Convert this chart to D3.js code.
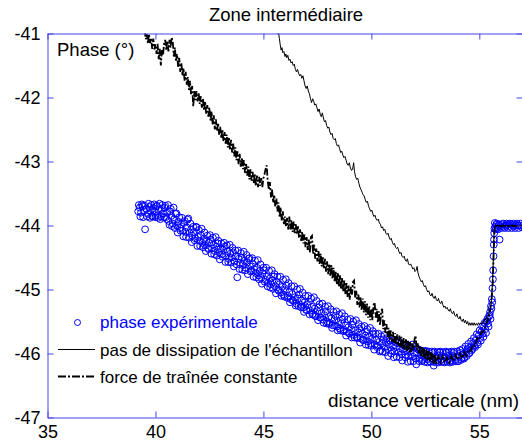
<!DOCTYPE html>
<html>
<head>
<meta charset="utf-8">
<script src="https://cdn.jsdelivr.net/npm/d3@7"></script>
<style>
  html, body { margin: 0; padding: 0; background: #fff; }
  svg { display: block; font-family: "Liberation Sans", Arial, sans-serif; }
</style>
</head>
<body>
<script>
// ---------- data ----------
const titleText = "Zone intermédiaire";
const xLabel = "distance verticale (nm)";
const yLabel = "Phase (°)";
const xTicks = [35, 40, 45, 50, 55];
const yTicks = [-47, -46, -45, -44, -43, -42, -41];
const legendLabels = ["phase expérimentale", "pas de dissipation de l'échantillon", "force de traînée constante"];

// experimental phase (blue circles): [distance, phase]
const phaseExp = [
[39.20,-43.78],[39.27,-43.72],[39.33,-43.80],[39.40,-43.70],[39.46,-43.76],[39.52,-44.06],[39.58,-43.74],[39.65,-43.82],
[39.71,-43.71],[39.78,-43.77],[39.84,-43.85],[39.90,-43.73],[39.97,-43.79],[40.03,-43.70],[40.10,-43.84],[40.16,-43.76],
[40.22,-43.90],[40.29,-43.74],[40.35,-43.81],[40.42,-43.72],[40.48,-43.87],[40.55,-43.80],[40.61,-43.93],[40.68,-43.78],
[40.74,-43.85],[40.80,-43.97],[40.87,-43.90],[40.93,-43.82],[41.00,-44.00],[41.06,-43.94],[41.13,-44.04],[41.19,-43.98],
[41.26,-44.08],[41.32,-43.96],[41.39,-44.10],[41.45,-44.03],[41.52,-43.89],[41.58,-44.12],[41.65,-44.06],[41.71,-44.16],
[41.78,-44.10],[41.84,-44.20],[41.91,-44.03],[41.97,-44.18],[42.04,-44.24],[42.10,-44.15],[42.17,-44.27],[42.23,-44.21],
[42.30,-44.31],[42.36,-44.24],[42.43,-44.35],[42.49,-44.27],[42.56,-44.22],[42.62,-44.36],[42.69,-44.30],[42.75,-44.40],
[42.82,-44.33],[42.88,-44.28],[42.95,-44.42],[43.01,-44.36],[43.08,-44.45],[43.14,-44.38],[43.21,-44.33],[43.27,-44.47],
[43.34,-44.40],[43.40,-44.52],[43.47,-44.44],[43.53,-44.50],[43.60,-44.42],[43.66,-44.56],[43.73,-44.48],[43.79,-44.81],
[43.86,-44.52],[43.92,-44.58],[43.99,-44.50],[44.05,-44.62],[44.12,-44.55],[44.18,-44.66],[44.25,-44.58],[44.31,-44.52],
[44.38,-44.64],[44.44,-44.70],[44.51,-44.60],[44.57,-44.68],[44.64,-44.74],[44.70,-44.66],[44.77,-44.78],[44.83,-44.71],
[44.90,-44.82],[44.96,-44.75],[45.03,-44.70],[45.09,-44.85],[45.16,-44.79],[45.22,-44.90],[45.29,-44.83],[45.35,-44.92],
[45.42,-44.86],[45.48,-44.80],[45.55,-44.95],[45.61,-44.88],[45.68,-45.00],[45.74,-44.92],[45.81,-45.05],[45.87,-44.96],
[45.94,-45.08],[46.00,-45.01],[46.07,-44.94],[46.13,-45.10],[46.20,-45.04],[46.26,-45.15],[46.33,-45.07],[46.39,-45.18],
[46.46,-45.12],[46.52,-45.22],[46.59,-45.14],[46.65,-45.08],[46.72,-45.24],[46.78,-45.17],[46.85,-45.28],[46.91,-45.20],
[46.98,-45.32],[47.04,-45.24],[47.11,-45.19],[47.17,-45.33],[47.24,-45.27],[47.30,-45.38],[47.37,-45.30],[47.43,-45.42],
[47.50,-45.34],[47.56,-45.28],[47.63,-45.44],[47.69,-45.37],[47.76,-45.47],[47.82,-45.40],[47.89,-45.34],[47.95,-45.50],
[48.02,-45.43],[48.08,-45.52],[48.15,-45.45],[48.21,-45.56],[48.28,-45.48],[48.34,-45.41],[48.41,-45.58],[48.47,-45.51],
[48.54,-45.61],[48.60,-45.53],[48.67,-45.47],[48.73,-45.63],[48.80,-45.56],[48.86,-45.66],[48.93,-45.59],[48.99,-45.69],
[49.06,-45.62],[49.12,-45.55],[49.19,-45.71],[49.25,-45.64],[49.32,-45.74],[49.38,-45.67],[49.45,-45.61],[49.51,-45.76],
[49.58,-45.69],[49.64,-45.79],[49.71,-45.72],[49.77,-45.66],[49.84,-45.81],[49.90,-45.74],[49.97,-45.84],[50.03,-45.77],
[50.10,-45.70],[50.16,-45.86],[50.23,-45.79],[50.29,-45.88],[50.36,-45.82],[50.42,-45.95],[50.49,-45.84],[50.55,-45.78],
[50.62,-45.90],[50.68,-45.83],[50.75,-45.93],[50.81,-45.86],[50.88,-45.80],[50.94,-45.95],[51.01,-45.88],[51.07,-45.97],
[51.14,-45.90],[51.20,-45.84],[51.27,-45.98],[51.33,-45.92],[51.40,-46.01],[51.46,-45.94],[51.53,-45.88],[51.59,-46.02],
[51.66,-45.95],[51.72,-46.04],[51.79,-45.97],[51.85,-45.91],[51.92,-46.05],[51.98,-45.99],[52.05,-46.08],[52.11,-46.00],
[52.18,-45.94],[52.24,-46.07],[52.31,-46.01],[52.37,-46.10],[52.44,-46.03],[52.50,-45.97],[52.57,-46.09],[52.63,-46.03],
[52.70,-46.12],[52.76,-46.05],[52.83,-45.99],[52.89,-46.19],[52.96,-46.06],[53.02,-46.11],[53.09,-46.03],[53.15,-45.98],
[53.22,-46.10],[53.28,-46.04],[53.35,-46.12],[53.41,-46.05],[53.48,-45.99],[53.54,-46.09],[53.61,-46.03],[53.67,-46.11],
[53.74,-46.04],[53.80,-45.99],[53.87,-46.10],[53.93,-46.05],[54.00,-46.12],[54.06,-46.04],[54.13,-45.99],[54.19,-46.07],
[54.26,-46.01],[54.32,-46.06],[54.39,-45.97],[54.45,-45.93],[54.52,-46.00],[54.58,-45.90],[54.65,-45.95],[54.71,-45.84],
[54.78,-45.88],[54.84,-45.79],[54.91,-45.83],[54.97,-45.72],[55.04,-45.76],[55.10,-45.66],[55.16,-45.69],[55.22,-45.58],
[55.28,-45.62],[55.34,-45.50],[55.40,-45.53],[55.45,-45.42],[55.50,-45.35],[55.54,-45.26],[55.58,-45.15],[55.61,-44.98],
[55.64,-44.70],[55.66,-44.48],[55.68,-44.22],[55.70,-44.05],[55.74,-44.02],[55.78,-43.99],[55.84,-44.04],[55.90,-44.00],
[55.94,-44.22],[55.98,-44.01],[56.06,-43.98],[56.14,-44.02],[56.22,-44.00],[56.30,-43.99],[56.38,-44.01],[56.46,-43.98],
[56.54,-44.00],[56.62,-44.01],[56.70,-43.99],[56.78,-44.00],[56.86,-44.00],[56.94,-44.00],
[39.23,-43.68],[39.30,-43.86],[39.37,-43.67],[39.43,-43.87],[39.49,-43.69],[39.61,-43.86],[39.68,-43.66],[39.75,-43.88],
[39.81,-43.68],[39.87,-43.86],[39.94,-43.67],[40.00,-43.87],[40.07,-43.69],[40.13,-43.88],[40.19,-43.66],[40.26,-43.86],
[40.32,-43.68],[40.39,-43.87],[40.45,-43.69],[40.52,-43.90],[40.58,-43.68],[40.65,-43.99],[40.71,-43.74],[40.77,-44.01],
[40.84,-43.72],[40.90,-44.04],[40.97,-43.81],[41.03,-44.11],[41.10,-43.87],[41.16,-44.08],[41.23,-43.88],[41.29,-44.17],
[41.36,-43.93],[41.42,-44.18],[41.49,-43.91],[41.55,-44.19],[41.62,-43.97],[41.68,-44.26],[41.75,-44.02],[41.81,-44.23],
[41.88,-44.02],[41.94,-44.32],[42.01,-44.07],[42.07,-44.32],[42.14,-44.05],[42.20,-44.34],[42.27,-44.11],[42.33,-44.40],
[42.40,-44.16],[42.46,-44.37],[42.53,-44.15],[42.59,-44.44],[42.66,-44.19],[42.72,-44.45],[42.79,-44.18],[42.85,-44.47],
[42.92,-44.24],[42.98,-44.53],[43.05,-44.28],[43.11,-44.49],[43.18,-44.27],[43.24,-44.57],[43.31,-44.31],[43.37,-44.57],
[43.44,-44.30],[43.50,-44.58],[43.57,-44.35],[43.63,-44.64],[43.70,-44.39],[43.76,-44.61],[43.83,-44.39],[43.89,-44.68],
[43.96,-44.43],[44.02,-44.69],[44.09,-44.41],[44.15,-44.70],[44.22,-44.46],[44.28,-44.76],[44.35,-44.51],[44.41,-44.72],
[44.48,-44.51],[44.54,-44.80],[44.61,-44.55],[44.67,-44.81],[44.74,-44.54],[44.80,-44.84],[44.87,-44.61],[44.93,-44.91],
[45.00,-44.66],[45.06,-44.88],[45.13,-44.66],[45.19,-44.95],[45.26,-44.71],[45.32,-44.97],[45.39,-44.70],[45.45,-44.99],
[45.52,-44.76],[45.58,-45.06],[45.65,-44.80],[45.71,-45.02],[45.78,-44.80],[45.84,-45.10],[45.91,-44.85],[45.97,-45.11],
[46.04,-44.84],[46.10,-45.13],[46.17,-44.90],[46.23,-45.20],[46.30,-44.95],[46.36,-45.17],[46.43,-44.95],[46.49,-45.25],
[46.56,-45.00],[46.62,-45.26],[46.69,-44.99],[46.75,-45.28],[46.82,-45.05],[46.88,-45.35],[46.95,-45.10],[47.01,-45.32],
[47.08,-45.10],[47.14,-45.39],[47.21,-45.14],[47.27,-45.39],[47.34,-45.12],[47.40,-45.41],[47.47,-45.18],[47.53,-45.48],
[47.60,-45.23],[47.66,-45.44],[47.73,-45.22],[47.79,-45.52],[47.86,-45.27],[47.92,-45.53],[47.99,-45.26],[48.05,-45.54],
[48.12,-45.31],[48.18,-45.60],[48.25,-45.35],[48.31,-45.56],[48.38,-45.34],[48.44,-45.64],[48.51,-45.39],[48.57,-45.64],
[48.64,-45.37],[48.70,-45.65],[48.77,-45.42],[48.83,-45.72],[48.90,-45.47],[48.96,-45.68],[49.03,-45.46],[49.09,-45.75],
[49.16,-45.50],[49.22,-45.75],[49.29,-45.48],[49.35,-45.76],[49.42,-45.54],[49.48,-45.83],[49.55,-45.58],[49.61,-45.79],
[49.68,-45.57],[49.74,-45.86],[49.81,-45.62],[49.87,-45.87],[49.94,-45.60],[50.00,-45.88],[50.07,-45.65],[50.13,-45.94],
[50.20,-45.69],[50.26,-45.90],[50.33,-45.69],[50.39,-45.97],[50.46,-45.73],[50.52,-45.97],[50.59,-45.71],[50.65,-45.98],
[50.72,-45.76],[50.78,-46.04],[50.85,-45.80],[50.91,-46.00],[50.98,-45.79],[51.04,-46.06],[51.11,-45.82],[51.17,-46.05],
[51.24,-45.80],[51.30,-46.06],[51.37,-45.84],[51.43,-46.11],[51.50,-45.87],[51.56,-46.06],[51.63,-45.86],[51.69,-46.13],
[51.76,-45.89],[51.82,-46.12],[51.89,-45.86],[51.95,-46.12],[52.02,-45.90],[52.08,-46.17],[52.15,-45.93],[52.21,-46.12],
[52.28,-45.95],[52.34,-46.12],[52.41,-45.96],[52.47,-46.13],[52.54,-45.96],[52.60,-46.14],[52.67,-45.97],[52.73,-46.13],
[52.80,-45.97],[52.86,-46.13],[52.93,-45.97],[52.99,-46.14],[53.06,-45.98],[53.12,-46.14],[53.19,-45.97],[53.25,-46.13],
[53.32,-45.98],[53.38,-46.14],[53.45,-45.97],[53.51,-46.13],[53.58,-45.98],[53.64,-46.14],[53.71,-45.97],[53.77,-46.13],
[53.84,-45.97],[53.90,-46.12],[53.97,-45.97],[54.03,-46.12],[54.10,-45.95],[54.16,-46.10],[54.23,-45.93],[54.29,-46.08],
[54.36,-45.89],[54.42,-46.04],[54.49,-45.85],[54.55,-45.99],[54.62,-45.81],[54.68,-45.93],[54.75,-45.76],[54.81,-45.90],
[54.88,-45.70],[54.94,-45.86],[55.01,-45.64],[55.07,-45.80],[55.13,-45.58],[55.19,-45.74],[55.25,-45.52],[55.31,-45.68],
[55.37,-45.46],[55.43,-45.58],[55.48,-45.40],[55.52,-45.46],[55.56,-45.30],[55.60,-45.20],[55.63,-44.84],[55.67,-44.30],
[55.69,-44.12],[55.72,-43.96],[55.76,-44.06],[55.81,-43.97],[55.87,-44.06],[55.92,-43.98],[56.02,-44.04],[56.10,-43.97],
[56.18,-44.04],[56.26,-43.97],[56.34,-44.04],[56.42,-43.97],[56.50,-44.04],[56.58,-43.97],[56.66,-44.04],[56.74,-43.97],
[56.82,-44.04],[56.90,-43.97],[56.98,-44.03]
];

// no sample dissipation (thin solid line): [distance, phase]
const phaseNoDiss = [
[45.60,-40.90],[45.66,-41.00],[45.70,-40.98],[45.74,-41.08],[45.78,-41.18],[45.82,-41.26],[45.86,-41.22],[45.90,-41.30],
[45.95,-41.28],[46.00,-41.36],[46.04,-41.32],[46.08,-41.38],[46.13,-41.34],[46.18,-41.42],[46.23,-41.40],[46.28,-41.46],
[46.33,-41.44],[46.38,-41.50],[46.43,-41.48],[46.48,-41.56],[46.53,-41.60],[46.58,-41.56],[46.63,-41.62],[46.68,-41.66],
[46.73,-41.64],[46.78,-41.70],[46.83,-41.66],[46.88,-41.74],[46.93,-41.82],[46.98,-41.86],[47.03,-41.82],[47.08,-41.90],
[47.13,-41.94],[47.18,-42.02],[47.23,-42.08],[47.28,-42.02],[47.33,-42.06],[47.38,-42.12],[47.43,-42.10],[47.48,-42.16],
[47.53,-42.22],[47.58,-42.18],[47.63,-42.26],[47.68,-42.30],[47.73,-42.24],[47.78,-42.32],[47.83,-42.38],[47.88,-42.36],
[47.93,-42.44],[47.98,-42.48],[48.03,-42.46],[48.08,-42.54],[48.13,-42.58],[48.18,-42.56],[48.23,-42.64],[48.28,-42.66],
[48.33,-42.64],[48.38,-42.72],[48.43,-42.76],[48.48,-42.74],[48.53,-42.80],[48.58,-42.86],[48.63,-42.84],[48.68,-42.90],
[48.73,-42.94],[48.78,-42.92],[48.83,-42.98],[48.88,-43.04],[48.93,-43.06],[48.98,-43.02],[49.03,-43.10],[49.08,-43.14],
[49.13,-43.12],[49.18,-43.02],[49.22,-43.16],[49.27,-43.24],[49.32,-43.28],[49.37,-43.26],[49.42,-43.34],[49.47,-43.40],
[49.52,-43.44],[49.57,-43.48],[49.62,-43.52],[49.67,-43.54],[49.72,-43.60],[49.77,-43.64],[49.82,-43.62],[49.87,-43.70],
[49.92,-43.74],[49.97,-43.78],[50.02,-43.76],[50.07,-43.82],[50.12,-43.86],[50.17,-43.84],[50.22,-43.90],[50.27,-43.92],
[50.32,-43.90],[50.37,-43.96],[50.42,-43.98],[50.47,-44.04],[50.52,-44.02],[50.57,-44.08],[50.62,-44.06],[50.67,-44.12],
[50.72,-44.14],[50.77,-44.12],[50.82,-44.18],[50.87,-44.22],[50.92,-44.20],[50.97,-44.26],[51.02,-44.30],[51.07,-44.28],
[51.12,-44.34],[51.17,-44.36],[51.22,-44.34],[51.27,-44.40],[51.32,-44.44],[51.37,-44.42],[51.42,-44.48],[51.47,-44.50],
[51.52,-44.48],[51.57,-44.54],[51.62,-44.56],[51.67,-44.52],[51.72,-44.60],[51.77,-44.62],[51.82,-44.60],[51.87,-44.64],
[51.92,-44.68],[51.97,-44.66],[52.02,-44.72],[52.07,-44.70],[52.12,-44.64],[52.16,-44.74],[52.21,-44.80],[52.26,-44.84],
[52.31,-44.88],[52.36,-44.86],[52.41,-44.92],[52.46,-44.96],[52.51,-44.94],[52.56,-45.00],[52.61,-45.04],[52.66,-45.02],
[52.71,-45.08],[52.76,-45.10],[52.81,-45.06],[52.86,-45.12],[52.91,-45.14],[52.96,-45.10],[53.01,-45.16],[53.06,-45.18],
[53.11,-45.14],[53.16,-45.20],[53.21,-45.22],[53.26,-45.18],[53.31,-45.24],[53.36,-45.28],[53.41,-45.26],[53.46,-45.30],
[53.51,-45.28],[53.56,-45.32],[53.61,-45.34],[53.66,-45.30],[53.71,-45.36],[53.76,-45.38],[53.81,-45.34],[53.86,-45.40],
[53.91,-45.42],[53.96,-45.38],[54.01,-45.44],[54.06,-45.46],[54.11,-45.42],[54.16,-45.48],[54.21,-45.50],[54.26,-45.46],
[54.31,-45.52],[54.36,-45.48],[54.41,-45.54],[54.46,-45.50],[54.51,-45.56],[54.56,-45.52],[54.61,-45.56],[54.66,-45.52],
[54.71,-45.56],[54.76,-45.52],[54.81,-45.56],[54.86,-45.53],[54.91,-45.56],[54.96,-45.52],[55.01,-45.55],[55.06,-45.52],
[55.11,-45.54],[55.16,-45.50],[55.21,-45.50],[55.26,-45.46],[55.31,-45.47],[55.36,-45.42],[55.41,-45.40],[55.46,-45.36],
[55.51,-45.30],[55.55,-45.22],[55.58,-45.08],[55.61,-44.90],[55.64,-44.62],[55.66,-44.36],[55.68,-44.14],[55.71,-44.02],
[55.80,-44.00],[56.00,-44.01],[56.30,-44.00],[56.60,-44.01],[57.00,-44.00]
];

// constant drag force (dash-dot line): [distance, phase]
const phaseDrag = [
[39.50,-40.94],[39.55,-41.09],[39.60,-41.01],[39.65,-41.16],[39.70,-41.01],[39.75,-41.15],[39.80,-41.08],[39.85,-41.24],
[39.90,-41.08],[39.95,-41.25],[40.00,-41.17],[40.05,-41.32],[40.10,-41.16],[40.15,-41.40],[40.20,-41.24],[40.25,-41.50],
[40.30,-41.26],[40.35,-41.34],[40.40,-41.16],[40.45,-41.10],[40.50,-41.26],[40.55,-41.12],[40.60,-41.28],[40.65,-41.10],
[40.70,-41.22],[40.75,-41.06],[40.80,-41.12],[40.85,-41.36],[40.90,-41.22],[40.95,-41.44],[41.00,-41.32],[41.05,-41.52],
[41.10,-41.38],[41.15,-41.60],[41.20,-41.46],[41.25,-41.66],[41.30,-41.54],[41.35,-41.74],[41.40,-41.60],[41.45,-41.80],
[41.50,-41.68],[41.55,-41.88],[41.60,-41.74],[41.65,-41.96],[41.70,-41.82],[41.75,-42.14],[41.80,-41.90],[41.85,-42.04],
[41.90,-41.90],[41.95,-42.06],[42.00,-41.92],[42.05,-42.10],[42.10,-41.98],[42.15,-42.16],[42.20,-42.02],[42.25,-42.20],
[42.30,-42.06],[42.35,-42.26],[42.40,-42.12],[42.45,-42.30],[42.50,-42.16],[42.55,-42.36],[42.60,-42.22],[42.65,-42.42],
[42.70,-42.28],[42.75,-42.50],[42.80,-42.34],[42.85,-42.52],[42.90,-42.40],[42.95,-42.58],[43.00,-42.46],[43.05,-42.64],
[43.10,-42.50],[43.15,-42.68],[43.20,-42.54],[43.25,-42.72],[43.30,-42.58],[43.35,-42.78],[43.40,-42.62],[43.45,-42.82],
[43.50,-42.66],[43.55,-42.86],[43.60,-42.72],[43.65,-42.92],[43.70,-42.78],[43.75,-42.98],[43.80,-42.84],[43.85,-43.04],
[43.90,-42.88],[43.95,-43.08],[44.00,-42.94],[44.05,-43.12],[44.10,-42.98],[44.15,-43.18],[44.20,-43.04],[44.25,-43.22],
[44.30,-43.08],[44.35,-43.28],[44.40,-43.12],[44.45,-43.30],[44.50,-43.16],[44.55,-43.34],[44.60,-43.20],[44.65,-43.38],
[44.70,-43.22],[44.75,-43.40],[44.80,-43.24],[44.85,-43.38],[44.90,-43.26],[44.95,-43.40],[45.00,-43.26],[45.05,-43.20],
[45.10,-43.12],[45.15,-43.06],[45.20,-43.30],[45.25,-43.44],[45.30,-43.32],[45.35,-43.56],[45.40,-43.44],[45.45,-43.64],
[45.50,-43.52],[45.55,-43.70],[45.60,-43.58],[45.65,-43.78],[45.70,-43.64],[45.75,-43.86],[45.80,-43.72],[45.85,-43.92],
[45.90,-43.78],[45.95,-43.98],[46.00,-43.86],[46.05,-44.02],[46.10,-43.88],[46.15,-44.06],[46.20,-43.86],[46.25,-44.06],
[46.30,-43.92],[46.35,-44.10],[46.40,-43.94],[46.45,-44.12],[46.50,-43.98],[46.55,-44.14],[46.60,-44.00],[46.65,-44.20],
[46.70,-44.06],[46.75,-44.24],[46.80,-44.10],[46.85,-44.28],[46.90,-44.14],[46.95,-44.34],[47.00,-44.18],[47.05,-44.38],
[47.10,-44.22],[47.15,-44.42],[47.20,-44.18],[47.25,-44.16],[47.30,-44.44],[47.35,-44.30],[47.40,-44.52],[47.45,-44.36],
[47.50,-44.56],[47.55,-44.40],[47.60,-44.60],[47.65,-44.44],[47.70,-44.64],[47.75,-44.48],[47.80,-44.68],[47.85,-44.52],
[47.90,-44.72],[47.95,-44.56],[48.00,-44.76],[48.05,-44.60],[48.10,-44.80],[48.15,-44.62],[48.20,-44.84],[48.25,-44.66],
[48.30,-44.88],[48.35,-44.72],[48.40,-44.92],[48.45,-44.74],[48.50,-44.96],[48.55,-44.78],[48.60,-45.00],[48.65,-44.82],
[48.70,-45.04],[48.75,-44.86],[48.80,-45.08],[48.85,-44.90],[48.90,-45.12],[48.95,-44.94],[49.00,-45.16],[49.05,-44.96],
[49.10,-45.08],[49.15,-44.88],[49.20,-44.86],[49.25,-45.14],[49.30,-45.02],[49.35,-45.24],[49.40,-45.08],[49.45,-45.28],
[49.50,-45.12],[49.55,-45.32],[49.60,-45.14],[49.65,-45.36],[49.70,-45.18],[49.75,-45.40],[49.80,-45.22],[49.85,-45.44],
[49.90,-45.26],[49.95,-45.48],[50.00,-45.30],[50.05,-45.48],[50.10,-45.24],[50.15,-45.20],[50.20,-45.44],[50.25,-45.30],
[50.30,-45.52],[50.35,-45.34],[50.40,-45.56],[50.45,-45.36],[50.50,-45.30],[50.55,-45.62],[50.60,-45.48],[50.65,-45.68],
[50.70,-45.54],[50.75,-45.74],[50.80,-45.60],[50.85,-45.78],[50.90,-45.64],[50.95,-45.82],[51.00,-45.66],[51.05,-45.84],
[51.10,-45.68],[51.15,-45.86],[51.20,-45.70],[51.25,-45.88],[51.30,-45.72],[51.35,-45.90],[51.40,-45.74],[51.45,-45.92],
[51.50,-45.76],[51.55,-45.94],[51.60,-45.78],[51.65,-45.96],[51.70,-45.80],[51.75,-45.98],[51.80,-45.82],[51.85,-45.98],
[51.90,-45.84],[51.95,-45.94],[52.00,-45.78],[52.05,-45.72],[52.10,-45.94],[52.15,-45.84],[52.20,-46.00],[52.25,-45.88],
[52.30,-46.04],[52.35,-45.90],[52.40,-46.06],[52.45,-45.92],[52.50,-46.08],[52.55,-45.94],[52.60,-46.10],[52.65,-45.96],
[52.70,-46.12],[52.75,-45.98],[52.80,-46.14],[52.85,-46.00],[52.90,-46.16],[52.95,-46.02],[53.00,-46.16],[53.10,-46.04],
[53.20,-46.14],[53.30,-46.04],[53.40,-46.14],[53.50,-46.06],[53.60,-46.14],[53.70,-46.04],[53.80,-46.12],[53.90,-46.02],
[54.00,-46.10],[54.10,-46.00],[54.20,-46.08],[54.30,-45.98],[54.40,-46.04],[54.50,-45.94],[54.60,-45.96],[54.70,-45.86],
[54.80,-45.88],[54.90,-45.76],[55.00,-45.78],[55.10,-45.66],[55.20,-45.66],[55.30,-45.54],[55.40,-45.48],[55.48,-45.36],
[55.54,-45.24],[55.58,-45.10],[55.62,-44.90],[55.65,-44.60],[55.68,-44.30],[55.70,-44.08],[55.74,-44.00],[55.90,-44.02],
[56.10,-44.00],[56.30,-44.02],[56.50,-44.00],[56.70,-44.01],[57.00,-44.00]
];

// ---------- drawing ----------
const W = 522, H = 443;
const axisColor = "#4646ec";
const blue = "#0000ff";
const fontFam = "'Liberation Sans', Arial, sans-serif";

const svg = d3.select("body").append("svg").attr("width", W).attr("height", H);

const x = d3.scaleLinear().domain([35, 57]).range([47.5, 522.5]);
const y = d3.scaleLinear().domain([-47, -41]).range([417.5, 33.5]);

svg.append("defs").append("clipPath").attr("id", "plotclip")
  .append("rect")
  .attr("x", x(35)).attr("y", y(-41))
  .attr("width", x(57) - x(35)).attr("height", y(-47) - y(-41));

const plot = svg.append("g").attr("clip-path", "url(#plotclip)");

// experimental circles
plot.append("g").selectAll("circle").data(phaseExp).join("circle")
  .attr("cx", d => x(d[0])).attr("cy", d => y(d[1]))
  .attr("r", 3.4)
  .attr("fill", "none").attr("stroke", blue).attr("stroke-width", 1);

const line = d3.line().x(d => x(d[0])).y(d => y(d[1]));

// constant drag force line (dash-dot)
plot.append("path").datum(phaseDrag)
  .attr("d", line).attr("fill", "none")
  .attr("stroke", "#000").attr("stroke-width", 1.8)
  .attr("stroke-dasharray", "7,2,2,2");

// no dissipation line (solid)
plot.append("path").datum(phaseNoDiss)
  .attr("d", line).attr("fill", "none")
  .attr("stroke", "#000").attr("stroke-width", 1);

// axes
const fmt = d => String(d);
function styleAxis(g) {
  g.select(".domain").attr("stroke", axisColor).attr("stroke-width", 1);
  g.selectAll(".tick line").attr("stroke", axisColor).attr("stroke-width", 1);
  g.selectAll("text").attr("fill", "#000").attr("font-family", fontFam).attr("font-size", 18);
}
svg.append("g").attr("transform", `translate(0,${y(-47)})`)
  .call(d3.axisBottom(x).tickValues(xTicks).tickFormat(fmt).tickSize(-6).tickSizeOuter(0).tickPadding(8))
  .call(styleAxis);
svg.append("g").attr("transform", `translate(0,${y(-41)})`)
  .call(d3.axisTop(x).tickValues(xTicks).tickFormat("").tickSize(-6).tickSizeOuter(0))
  .call(styleAxis);
svg.append("g").attr("transform", `translate(${x(35)},0)`)
  .call(d3.axisLeft(y).tickValues(yTicks).tickFormat(fmt).tickSize(-6).tickSizeOuter(0).tickPadding(7))
  .call(styleAxis);
svg.append("g").attr("transform", `translate(${x(57)},0)`)
  .call(d3.axisRight(y).tickValues(yTicks).tickFormat("").tickSize(-6).tickSizeOuter(0))
  .call(styleAxis);

// title and labels
svg.append("text").attr("x", 286).attr("y", 21).attr("text-anchor", "middle")
  .attr("font-family", fontFam).attr("font-size", 18.5).text(titleText);
svg.append("text").attr("x", 57).attr("y", 56)
  .attr("font-family", fontFam).attr("font-size", 18.5).text(yLabel);
svg.append("text").attr("x", 328).attr("y", 407)
  .attr("font-family", fontFam).attr("font-size", 19).text(xLabel);

// legend
const leg = svg.append("g");
leg.append("circle").attr("cx", 77.5).attr("cy", 322.5).attr("r", 3)
  .attr("fill", "none").attr("stroke", blue).attr("stroke-width", 1);
leg.append("text").attr("x", 100).attr("y", 328).attr("fill", blue)
  .attr("font-family", fontFam).attr("font-size", 17).text(legendLabels[0]);
leg.append("line").attr("x1", 58).attr("x2", 95).attr("y1", 349.5).attr("y2", 349.5)
  .attr("stroke", "#000").attr("stroke-width", 1);
leg.append("text").attr("x", 100).attr("y", 355.5)
  .attr("font-family", fontFam).attr("font-size", 17).text(legendLabels[1]);
leg.append("line").attr("x1", 58).attr("x2", 95).attr("y1", 376.5).attr("y2", 376.5)
  .attr("stroke", "#000").attr("stroke-width", 2).attr("stroke-dasharray", "8,2,2,2");
leg.append("text").attr("x", 100).attr("y", 382.5)
  .attr("font-family", fontFam).attr("font-size", 17).text(legendLabels[2]);
</script>
</body>
</html>
